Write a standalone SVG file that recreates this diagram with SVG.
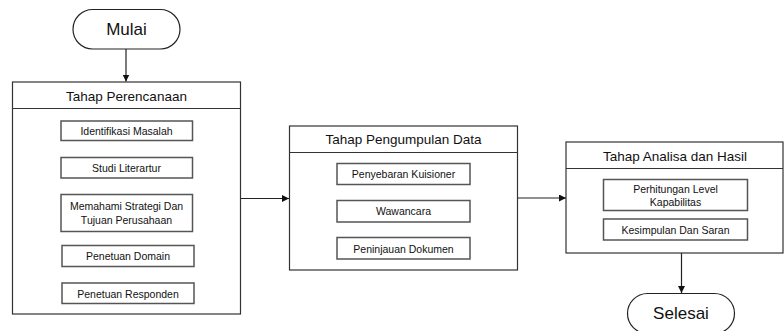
<svg xmlns="http://www.w3.org/2000/svg" width="784" height="331" viewBox="0 0 784 331">
<style>
.term{fill:#fff;stroke:#222;stroke-width:1.2}
.box{fill:#fff;stroke:#333;stroke-width:1.2}
.item{fill:#fff;stroke:#555;stroke-width:1.5}
.t{font-family:"Liberation Sans",Arial,sans-serif;fill:#111;text-anchor:middle;dominant-baseline:central}
.big{font-size:17px}
.hd{font-size:13.5px}
.sm{font-size:10.5px}
.conn{stroke:#222;stroke-width:1.2;fill:none}
</style>
<defs>
<marker id="ah" viewBox="0 0 10 10" refX="10" refY="5" markerWidth="7" markerHeight="7" orient="auto" markerUnits="userSpaceOnUse">
<path d="M0,0 L10,5 L0,10 z" fill="#111"/>
</marker>
</defs>
<rect width="784" height="331" fill="#fff"/>
<g id="connectors">
<line class="conn" x1="126" y1="49" x2="126" y2="81.5" marker-end="url(#ah)"/>
<line class="conn" x1="240" y1="198.5" x2="289" y2="198.5" marker-end="url(#ah)"/>
<line class="conn" x1="518" y1="198" x2="566" y2="198" marker-end="url(#ah)"/>
<line class="conn" x1="681.5" y1="253" x2="681.5" y2="293" marker-end="url(#ah)"/>
</g>
<g id="mulai">
<rect class="term" x="73" y="9.5" width="107" height="39.5" rx="19.75"/>
<text class="t big" x="126.5" y="29.5">Mulai</text>
</g>
<g id="perencanaan">
<rect class="box" x="12.5" y="82" width="228" height="232"/>
<line class="box" x1="12.5" y1="108.5" x2="240.5" y2="108.5"/>
<text class="t hd" x="126.5" y="96">Tahap Perencanaan</text>
</g>
<g id="identifikasi">
<rect class="item" x="61" y="121" width="131.5" height="19.5"/>
<text class="t sm" x="126.5" y="131">Identifikasi Masalah</text>
</g>
<g id="studi">
<rect class="item" x="61" y="157.5" width="131.5" height="20.5"/>
<text class="t sm" x="126.5" y="168">Studi Literartur</text>
</g>
<g id="memahami">
<rect class="item" x="61" y="194.5" width="131.5" height="37"/>
<text class="t sm" x="126.5" y="206">Memahami Strategi Dan</text>
<text class="t sm" x="126.5" y="220">Tujuan Perusahaan</text>
</g>
<g id="domain">
<rect class="item" x="62" y="245.5" width="132" height="21"/>
<text class="t sm" x="128" y="256">Penetuan Domain</text>
</g>
<g id="responden">
<rect class="item" x="62" y="283" width="132" height="20.5"/>
<text class="t sm" x="128" y="293.5">Penetuan Responden</text>
</g>
<g id="pengumpulan">
<rect class="box" x="289.5" y="126" width="228" height="144"/>
<line class="box" x1="289.5" y1="152.5" x2="517.5" y2="152.5"/>
<text class="t hd" x="403.5" y="139">Tahap Pengumpulan Data</text>
</g>
<g id="penyebaran">
<rect class="item" x="337" y="163.5" width="133" height="21"/>
<text class="t sm" x="403.5" y="174">Penyebaran Kuisioner</text>
</g>
<g id="wawancara">
<rect class="item" x="337" y="200.5" width="133" height="21.5"/>
<text class="t sm" x="403.5" y="211">Wawancara</text>
</g>
<g id="peninjauan">
<rect class="item" x="337" y="237.5" width="133" height="21.5"/>
<text class="t sm" x="403.5" y="248.5">Peninjauan Dokumen</text>
</g>
<g id="analisa">
<rect class="box" x="566" y="142" width="217" height="111"/>
<line class="box" x1="566" y1="168.5" x2="783" y2="168.5"/>
<text class="t hd" x="675" y="156.5">Tahap Analisa dan Hasil</text>
</g>
<g id="perhitungan">
<rect class="item" x="603.5" y="179.5" width="144" height="31"/>
<text class="t sm" x="675.5" y="188.5">Perhitungan Level</text>
<text class="t sm" x="675.5" y="202">Kapabilitas</text>
</g>
<g id="kesimpulan">
<rect class="item" x="603.5" y="219" width="144" height="21"/>
<text class="t sm" x="675.5" y="229.5">Kesimpulan Dan Saran</text>
</g>
<g id="selesai">
<rect class="term" x="627.5" y="293.5" width="107" height="40" rx="20"/>
<text class="t big" x="681" y="313.5">Selesai</text>
</g>
</svg>
